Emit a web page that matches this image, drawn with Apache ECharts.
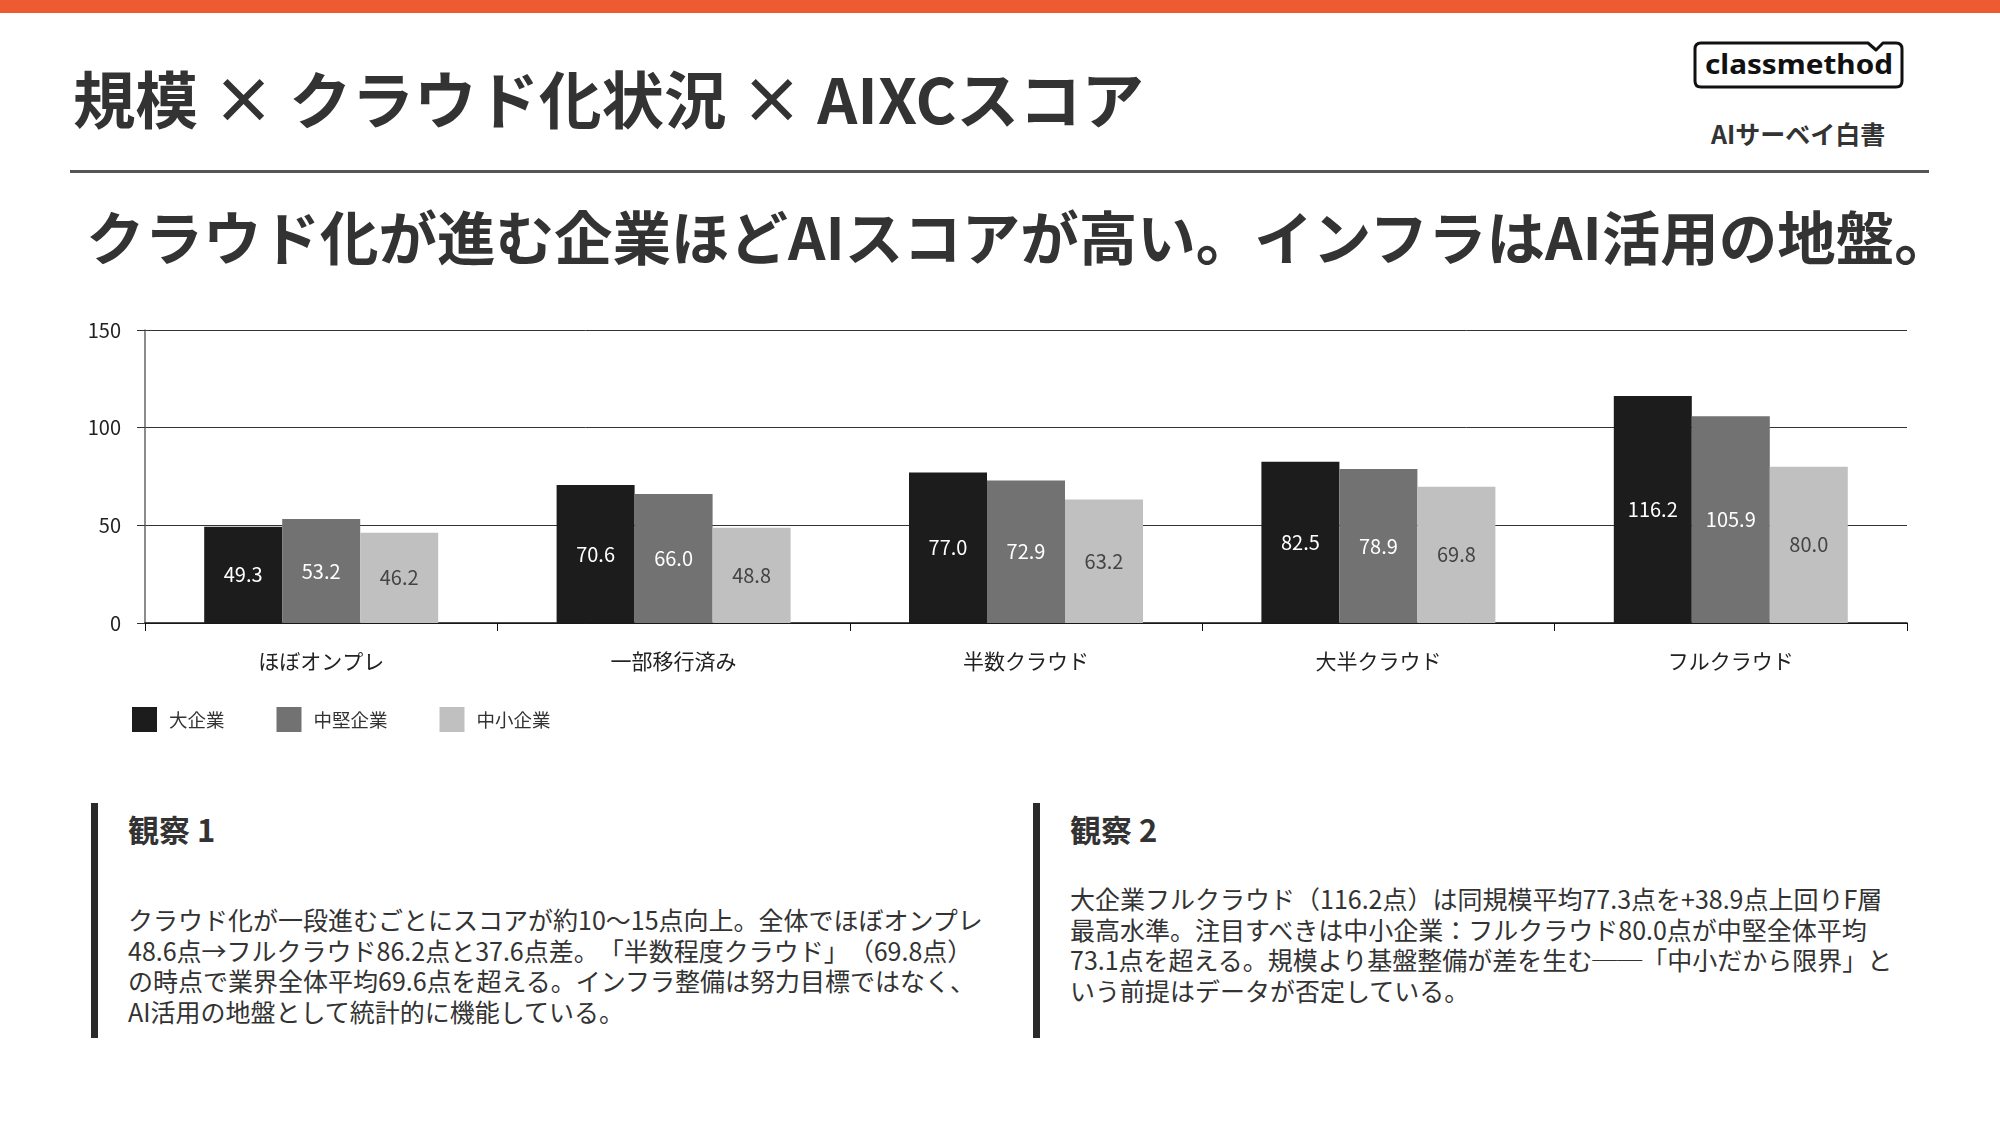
<!DOCTYPE html>
<html lang="ja">

<head>
    <meta charset="UTF-8">
    <title>規模 × クラウド化状況 × AIXCスコア</title>
    <script src="https://cdnjs.cloudflare.com/ajax/libs/echarts/6.0.0/echarts.min.js"></script>
</head>
<style>
    body {
        margin: 0;
        width: 2000px;
        height: 1125px;
        overflow: hidden;
        background: #fff;
        font-family: "Noto Sans CJK JP", "Noto Sans", sans-serif;
        color: #333;
        position: relative;
        text-spacing-trim: space-all;
    }

    .topbar {
        position: absolute;
        left: 0;
        top: 0;
        width: 2000px;
        height: 13px;
        background: #ee5a32;
    }

    .title {
        position: absolute;
        left: 73px;
        top: 58px;
        font-size: 62.5px;
        font-weight: 700;
        line-height: 78px;
        white-space: nowrap;
        color: #333;
    }

    .rule {
        position: absolute;
        left: 70px;
        top: 170px;
        width: 1859px;
        height: 3px;
        background: #555;
    }

    .lead {
        position: absolute;
        left: 86px;
        top: 200px;
        font-size: 58.5px;
        font-weight: 700;
        line-height: 70px;
        white-space: nowrap;
        color: #333;
    }

    .logo {
        position: absolute;
        left: 1690px;
        top: 36px;
    }

    .sub {
        position: absolute;
        left: 1711px;
        top: 117px;
        font-size: 25px;
        font-weight: 700;
        line-height: 32px;
        white-space: nowrap;
        color: #333;
    }

    .note {
        position: absolute;
        top: 803px;
        height: 235px;
        border-left: 7px solid #2a2a2a;
    }

    .note h3 {
        position: absolute;
        left: 30px;
        top: 6px;
        margin: 0;
        font-size: 31px;
        font-weight: 700;
        line-height: 40px;
        white-space: nowrap;
        color: #333;
    }

    .note p {
        position: absolute;
        left: 30px;
        margin: 0;
        font-size: 25px;
        line-height: 30.5px;
        white-space: nowrap;
        color: #333;
    }

    #main {
        position: absolute;
        left: 0;
        top: 300px;
        width: 2000px;
        height: 460px;
    }
</style>

<body>
    <div class="topbar"></div>
    <div class="title">規模 × クラウド化状況 × AIXCスコア</div>
    <svg class="logo" width="220" height="56" viewBox="0 0 220 56">
        <path d="M11 7 H178 L186 14 L193 7 H206 Q212 7 212 13 V45 Q212 51 206 51 H11 Q5 51 5 45 V13 Q5 7 11 7 Z"
            fill="#fff" stroke="#111" stroke-width="3" stroke-linejoin="round" />
        <text x="15" y="38" font-family="Noto Sans, sans-serif" font-weight="700" font-size="27" fill="#111"
            textLength="188" lengthAdjust="spacingAndGlyphs">classmethod</text>
    </svg>
    <div class="sub">AIサーベイ白書</div>
    <div class="rule"></div>
    <div class="lead">クラウド化が進む企業ほどAIスコアが高い。インフラはAI活用の地盤。</div>

    <div id="main"></div>

    <div class="note" style="left:91px; width:900px;">
        <h3>観察 1</h3>
        <p style="top:101px;">クラウド化が一段進むごとにスコアが約10〜15点向上。全体でほぼオンプレ<br>48.6点→フルクラウド86.2点と37.6点差。「半数程度クラウド」（69.8点）<br>の時点で業界全体平均69.6点を超える。インフラ整備は努力目標ではなく、<br>AI活用の地盤として統計的に機能している。</p>
    </div>
    <div class="note" style="left:1033px; width:900px;">
        <h3>観察 2</h3>
        <p style="top:80px;">大企業フルクラウド（116.2点）は同規模平均77.3点を+38.9点上回りF層<br>最高水準。注目すべきは中小企業：フルクラウド80.0点が中堅全体平均<br>73.1点を超える。規模より基盤整備が差を生む──「中小だから限界」と<br>いう前提はデータが否定している。</p>
    </div>
</body>
<script>
    // データ
    var categories = ['ほぼオンプレ', '一部移行済み', '半数クラウド', '大半クラウド', 'フルクラウド'];
    var seriesNames = ['大企業', '中堅企業', '中小企業'];
    var largeScores = [49.3, 70.6, 77.0, 82.5, 116.2];
    var midScores = [53.2, 66.0, 72.9, 78.9, 105.9];
    var smallScores = [46.2, 48.8, 63.2, 69.8, 80.0];
    var yMin = 0, yMax = 150, yStep = 50;

    var barColors = ['#1c1c1c', '#727272', '#c0c0c0'];
    var labelColors = ['#ffffff', '#ffffff', '#444444'];
    var font = '"Noto Sans CJK JP", "Noto Sans", sans-serif';

    var chart = echarts.init(document.getElementById('main'));

    function makeSeries(name, data, i) {
        return {
            name: name,
            type: 'bar',
            data: data,
            barWidth: 78,
            barGap: '0%',
            itemStyle: { color: barColors[i] },
            label: {
                show: true,
                position: 'inside',
                color: labelColors[i],
                fontSize: 20,
                fontFamily: font,
                formatter: function (p) { return p.value.toFixed(1); }
            },
            emphasis: { disabled: true }
        };
    }

    var option = {
        animation: false,
        textStyle: { fontFamily: font },
        grid: { left: 145, right: 93, top: 30, bottom: 137 },
        legend: {
            left: 127,
            top: 402,
            itemWidth: 25,
            itemHeight: 25,
            itemGap: 52,
            icon: 'rect',
            data: seriesNames,
            textStyle: { fontSize: 18.5, color: '#333', fontFamily: font, padding: [0, 0, 0, 7] }
        },
        xAxis: {
            type: 'category',
            data: categories,
            axisLine: { lineStyle: { color: '#111', width: 1.5 } },
            axisTick: { show: true, length: 8, lineStyle: { color: '#111' } },
            axisLabel: { fontSize: 21, color: '#222', margin: 28, fontFamily: font },
            splitLine: { show: false }
        },
        yAxis: {
            type: 'value',
            min: yMin,
            max: yMax,
            interval: yStep,
            axisLine: { show: true, lineStyle: { color: '#666', width: 1.5 } },
            axisTick: { show: true, length: 8, lineStyle: { color: '#333' } },
            axisLabel: { fontSize: 20, color: '#222', margin: 24, fontFamily: font },
            splitLine: { show: true, lineStyle: { color: '#333', width: 1 } }
        },
        series: [
            makeSeries(seriesNames[0], largeScores, 0),
            makeSeries(seriesNames[1], midScores, 1),
            makeSeries(seriesNames[2], smallScores, 2)
        ]
    };

    chart.setOption(option);
</script>

</html>
